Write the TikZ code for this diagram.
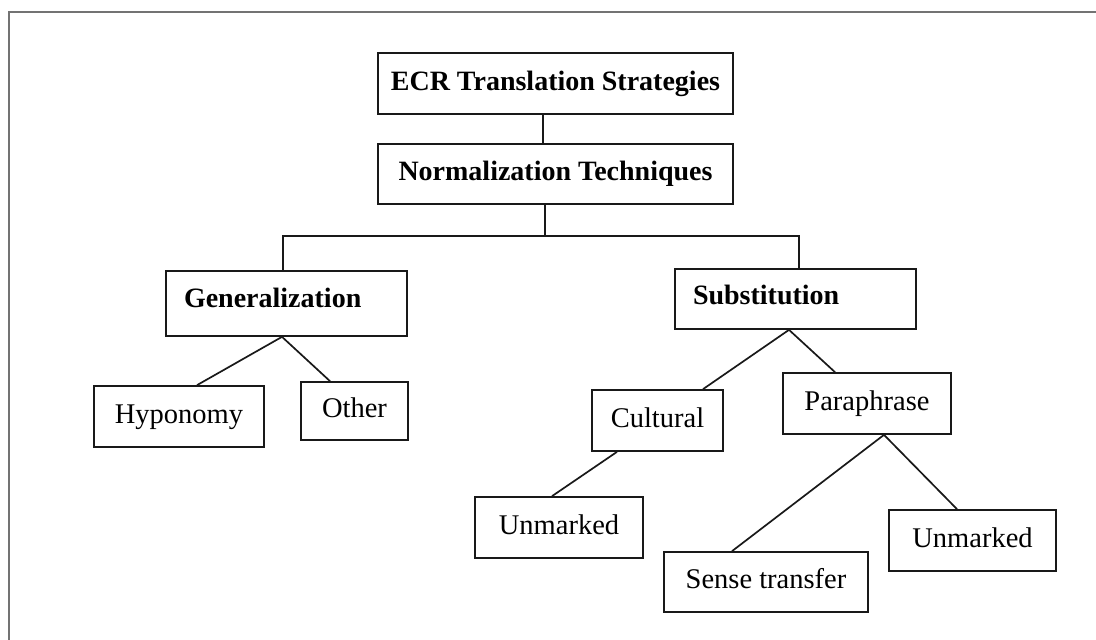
\documentclass[tikz,border=0pt]{standalone}
\usepackage{fontspec}
\setmainfont{Liberation Serif}
\begin{document}
\begin{tikzpicture}[x=1pt,y=-1pt,
  box/.style={draw=black!90, line width=1.7pt, rectangle, inner sep=0pt,
    font=\fontsize{28.5}{34}\selectfont, text height=19pt, text depth=6pt},
  headbox/.style={box, font=\fontsize{28}{34}\selectfont\bfseries},
  leftbox/.style={headbox, align=left, inner xsep=18pt, text width=#1},
  link/.style={draw=black!90, line width=1.7pt},
  frameline/.style={draw=black!55, line width=2pt}]
\useasboundingbox (0,0) rectangle (1096,640);
% outer frame (top and left edges only)
\draw[frameline] (9,640) -- (9,12) -- (1096,12);

% nodes
\node[headbox, minimum width=355pt, minimum height=61pt] (ecr) at (555.5,83.5) {ECR Translation Strategies};
\node[headbox, minimum width=355pt, minimum height=60pt] (norm) at (555.5,174) {Normalization Techniques};
\node[leftbox=205pt, minimum width=241pt, minimum height=65pt, text depth=12pt] (gen) at (286.5,303.5) {Generalization};
\node[leftbox=205pt, minimum width=241pt, minimum height=60pt, text depth=9pt] (sub) at (795.5,299) {Substitution};
\node[box, minimum width=170pt, minimum height=61pt] (hypo) at (179,416.5) {Hyponomy};
\node[box, minimum width=107pt, minimum height=58pt] (other) at (354.5,411) {Other};
\node[box, minimum width=131pt, minimum height=61pt] (cult) at (657.5,420.5) {Cultural};
\node[box, minimum width=168pt, minimum height=61pt] (para) at (867,403.5) {Paraphrase};
\node[box, minimum width=168pt, minimum height=61pt] (unmA) at (559,527.5) {Unmarked};
\node[box, minimum width=204pt, minimum height=60pt] (sense) at (766,582) {Sense transfer};
\node[box, minimum width=167pt, minimum height=61pt] (unmB) at (972.5,540.5) {Unmarked};

% bus joining the two technique branches
\coordinate (bus) at (545,236);

% connectors
\draw[link] ([xshift=-12.5pt]ecr.south) -- ([xshift=-12.5pt]norm.north);
\draw[link] ([xshift=-10.5pt]norm.south) -- (bus);
\draw[link] ([xshift=-3.5pt]gen.north) |- (bus) -| ([xshift=3.5pt]sub.north);
\draw[link] ([xshift=-4.5pt]gen.south) -- ([xshift=18pt]hypo.north);
\draw[link] ([xshift=-4.5pt]gen.south) -- ([xshift=-24.5pt]other.north);
\draw[link] ([xshift=-6.5pt]sub.south) -- ([xshift=45.5pt]cult.north);
\draw[link] ([xshift=-6.5pt]sub.south) -- ([xshift=-32pt]para.north);
\draw[link] ([xshift=-40.5pt]cult.south) -- ([xshift=-7pt]unmA.north);
\draw[link] ([xshift=17pt]para.south) -- ([xshift=-34pt]sense.north);
\draw[link] ([xshift=17pt]para.south) -- ([xshift=-15.5pt]unmB.north);
\end{tikzpicture}
\end{document}
